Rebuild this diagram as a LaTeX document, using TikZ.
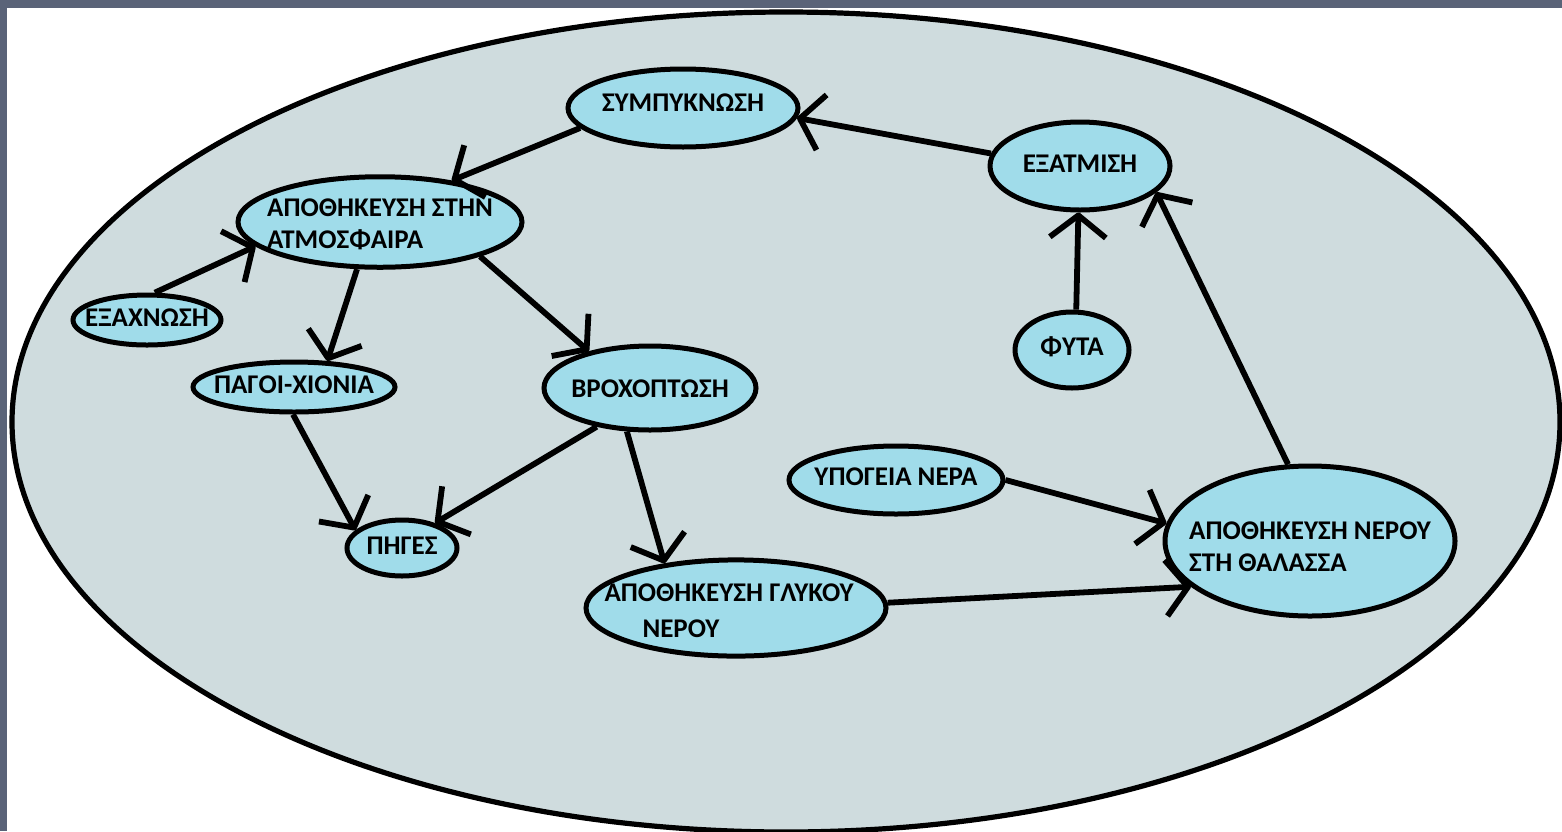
\documentclass[tikz,border=0pt]{standalone}
\usepackage{fontspec}
\setmainfont{Carlito}
\usetikzlibrary{shapes.geometric,arrows.meta}
\definecolor{framecol}{HTML}{5A6378}
\definecolor{bigfill}{HTML}{CFDCDE}
\definecolor{nodeblue}{HTML}{A0DCEA}
\pgfdeclarearrow{
  name=Vee,
  parameters={\the\pgfarrowlength,\the\pgfarrowwidth},
  setup code={
    \pgfarrowssettipend{.5\pgflinewidth}
    \pgfarrowssetlineend{0pt}
    \pgfarrowssavethe\pgfarrowlength
    \pgfarrowssavethe\pgfarrowwidth
  },
  drawing code={
    \pgfsetdash{}{0pt}
    \pgfsetroundjoin
    \pgfsetbuttcap
    \pgfpathmoveto{\pgfqpoint{-\pgfarrowlength}{.5\pgfarrowwidth}}
    \pgfpathlineto{\pgfpointorigin}
    \pgfpathlineto{\pgfqpoint{-\pgfarrowlength}{-.5\pgfarrowwidth}}
    \pgfusepathqstroke
  },
  defaults={length=10pt,width=26pt}
}
\newcommand\nodetext[3][0pt]{\makebox[0pt]{\hspace*{#3}\raisebox{#1}[\height][\depth]{\begin{tabular}{@{}l@{}}#2\end{tabular}}\hspace*{-#3}}}
\begin{document}
\begin{tikzpicture}[x=0.5pt,y=-0.5pt,
  st/.style={ellipse,draw=black,line width=2.5pt,fill=nodeblue,inner sep=0pt,
    font=\bfseries\fontsize{13.5}{16}\selectfont},
  ar/.style={line width=2.9pt,-{Vee[length=11pt,width=28pt]}}]
\useasboundingbox (0,0) rectangle (1562,831);
\fill[white] (0,0) rectangle (1562,831);
\fill[framecol] (0,0) rectangle (1562,8);
\fill[framecol] (0,0) rectangle (7,831);
\draw[line width=2.6pt,fill=bigfill] (786,422) ellipse [x radius=387pt,y radius=205pt];

\node[st,minimum width=115pt,minimum height=39pt] (cond) at (683,108) {\nodetext[1.5pt]{ΣΥΜΠΥΚΝΩΣΗ}{0pt}};
\node[st,minimum width=90pt,minimum height=44pt] (evap) at (1080,166) {\nodetext{ΕΞΑΤΜΙΣΗ}{0pt}};
\node[st,minimum width=142pt,minimum height=44pt] (atm) at (380,222) {\nodetext[-2pt]{ΑΠΟΘΗΚΕΥΣΗ ΣΤΗΝ\\ΑΤΜΟΣΦΑΙΡΑ}{0pt}};
\node[st,minimum width=74pt,minimum height=25pt] (subl) at (147,320) {\nodetext{ΕΞΑΧΝΩΣΗ}{0pt}};
\node[st,minimum width=101pt,minimum height=25pt] (ice) at (294,387) {\nodetext{ΠΑΓΟΙ-ΧΙΟΝΙΑ}{0pt}};
\node[st,minimum width=106pt,minimum height=42pt] (rain) at (650,388) {\nodetext[-1.5pt]{ΒΡΟΧΟΠΤΩΣΗ}{0pt}};
\node[st,minimum width=57pt,minimum height=38pt] (plants) at (1072,350) {\nodetext[0.5pt]{ΦΥΤΑ}{0pt}};
\node[st,minimum width=55pt,minimum height=28pt] (spr) at (402,548) {\nodetext{ΠΗΓΕΣ}{0pt}};
\node[st,minimum width=107pt,minimum height=34pt] (ground) at (896,480) {\nodetext[0.5pt]{ΥΠΟΓΕΙΑ ΝΕΡΑ}{0pt}};
\node[st,minimum width=145pt,minimum height=75pt] (sea) at (1310,541) {\nodetext[-4pt]{ΑΠΟΘΗΚΕΥΣΗ ΝΕΡΟΥ\\ΣΤΗ ΘΑΛΑΣΣΑ}{0pt}};
\node[st,minimum width=150pt,minimum height=45pt] (fresh) at (736,608) {\nodetext[-2.5pt]{ΑΠΟΘΗΚΕΥΣΗ ΓΛΥΚΟΥ\\[2pt]\hspace{19pt}ΝΕΡΟΥ}{-3.5pt}};

\draw[ar] (evap.172) -- (cond.355);
\draw[ar] (cond.191) -- (atm.30);
\draw[ar] (subl.74) -- (atm.191);
\draw[ar] (atm.244) -- (ice.38);
\draw[ar] (atm.341) -- (rain.149);
\draw[ar] (ice.268) -- (spr.159);
\draw[ar] (rain.216) -- (spr.37);
\draw[ar] (rain.242) -- (fresh.148);
\draw[ar] (fresh.2) -- (sea.201);
\draw[ar] (ground.0) -- (sea.173);
\draw[ar] (sea.106) -- (evap.341);
\draw[ar] (plants.84) -- (evap.268);
\end{tikzpicture}
\end{document}
